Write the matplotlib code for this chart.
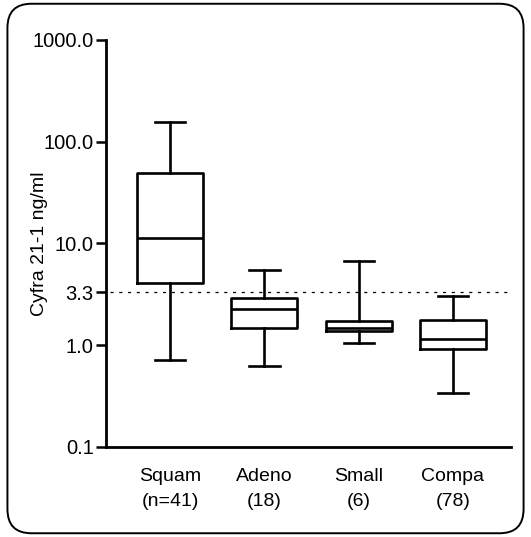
import matplotlib
matplotlib.use("Agg")
import matplotlib.pyplot as plt
from matplotlib.patches import FancyBboxPatch

plt.rcParams['font.family'] = ['Liberation Sans', 'DejaVu Sans']

# box plot summaries (log scale, ng/ml)
groups = ["Squam\n(n=41)", "Adeno\n(18)", "Small\n(6)", "Compa\n(78)"]
whisker_low = [0.72, 0.62, 1.06, 0.34]
q1 = [4.06, 1.49, 1.38, 0.91]
medians = [11.2, 2.26, 1.49, 1.16]
q3 = [49.7, 2.94, 1.75, 1.76]
whisker_high = [157, 5.5, 6.75, 3.03]
cutoff = 3.3

yticks = [0.1, 1.0, 3.3, 10.0, 100.0, 1000.0]
ytick_labels = ["0.1", "1.0", "3.3", "10.0", "100.0", "1000.0"]

stats = []
for i in range(len(groups)):
    stats.append({
        "whislo": whisker_low[i], "q1": q1[i], "med": medians[i],
        "q3": q3[i], "whishi": whisker_high[i], "fliers": [],
    })

fig = plt.figure(figsize=(5.31, 5.37), dpi=100)
ax = fig.add_axes([0.2, 0.1676, 0.762, 0.758])

lw = 1.9
positions = list(range(1, len(groups) + 1))
ax.bxp(stats, positions=positions, widths=0.70, capwidths=0.32,
       showfliers=False,
       boxprops=dict(color="black", linewidth=lw),
       medianprops=dict(color="black", linewidth=lw),
       whiskerprops=dict(color="black", linewidth=lw),
       capprops=dict(color="black", linewidth=lw))

ax.axhline(cutoff, xmin=0.01, xmax=1.0, color="black", linewidth=0.9,
           linestyle=(0, (2.5, 4.5)), zorder=0)

ax.set_yscale("log")
ax.set_ylim(0.1, 1000)
ax.set_xlim(0.32, 4.615)
ax.set_yticks(yticks)
ax.set_yticklabels(ytick_labels)
ax.minorticks_off()
ax.set_xticks(positions)
ax.set_xticklabels(groups, linespacing=1.6)

ax.tick_params(axis="y", direction="out", length=7, width=1.8, labelsize=14.5, pad=2)
ax.tick_params(axis="x", length=0, labelsize=14, pad=15)

ax.spines["top"].set_visible(False)
ax.spines["right"].set_visible(False)
ax.spines["left"].set_linewidth(2)
ax.spines["bottom"].set_linewidth(2)

ax.set_ylabel("Cyfra 21-1 ng/ml", fontsize=14)
ax.yaxis.set_label_coords(-0.143, 0.5)

# rounded frame around the whole figure
frame = FancyBboxPatch((0.014, 0.007), 0.972, 0.986,
                       boxstyle="round,pad=0,rounding_size=0.045",
                       transform=fig.transFigure, fill=False,
                       edgecolor="black", linewidth=1.4)
fig.patches.append(frame)

fig.savefig("out.png", dpi=100)
